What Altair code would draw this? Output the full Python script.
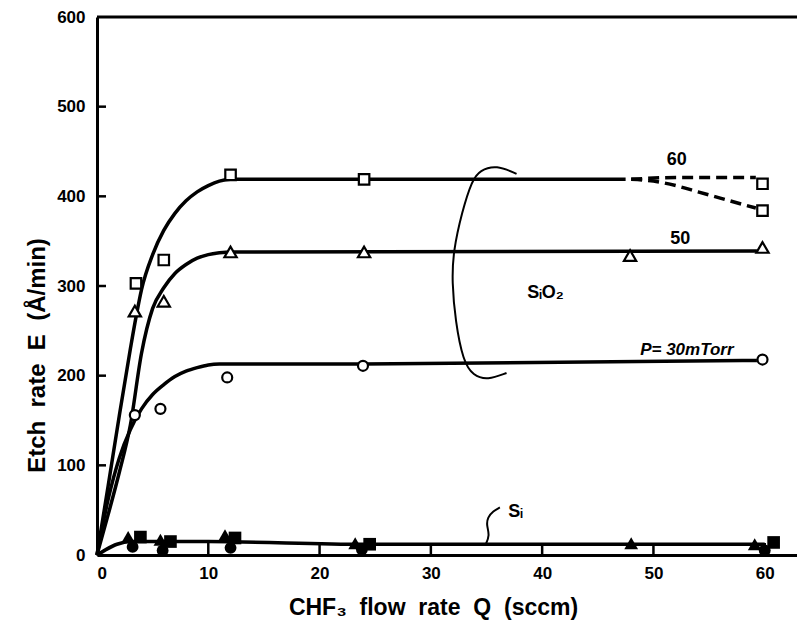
import altair as alt
import pandas as pd

FONT = "Liberation Sans Narrow, Arial Narrow, Liberation Sans, Arial, sans-serif"

# ---- axes ----
x_ticks = [0, 10, 20, 30, 40, 50, 60]
y_ticks = [0, 100, 200, 300, 400, 500, 600]
x_max = 62.9
y_max = 600

# ---- SiO2 measured points (open markers) ----
sq_x = [3.5, 6.0, 12.0, 24.0, 59.8, 59.8]
sq_y = [303, 329, 424, 419, 414, 384]
tri_x = [3.4, 6.0, 12.0, 24.0, 47.9, 59.8]
tri_y = [272, 283, 338, 338, 334, 343]
cir_x = [3.4, 5.7, 11.7, 23.9, 59.8]
cir_y = [156, 163, 198, 211, 218]

# ---- Si measured points (filled markers) ----
si_tri_x = [2.8, 5.7, 11.5, 23.2, 48.0, 59.1]
si_tri_y = [20, 17, 22, 13, 13, 12]
si_sq_x = [3.9, 6.6, 12.4, 24.5, 60.8]
si_sq_y = [20, 15, 19, 12, 14]
si_cir_x = [3.2, 5.9, 12.0, 23.8, 60.0]
si_cir_y = [9, 5, 8, 6, 5]

# ---- hand-drawn fitted curves ----
c60_x = [0, 1, 2, 3, 3.5, 4, 5, 6, 7, 8, 9, 10, 11, 12, 47.5]
c60_y = [0, 77, 155, 230, 265, 296, 335, 362, 381, 395, 405, 412, 417, 419, 419]
c50_x = [0, 1, 2, 3, 4, 5, 6, 7, 8, 9, 10, 11, 12, 59.3]
c50_y = [0, 45, 92, 145, 225, 275, 298, 314, 324, 331, 335, 337, 338, 339]
c30_x = [0, 1, 2, 3, 4, 5, 6, 7, 8, 9, 10, 11, 24, 59.3]
c30_y = [0, 62, 108, 140, 163, 179, 190, 199, 205, 209, 212, 213, 213, 217]
d60a_x = [48, 52, 56, 59.2]
d60a_y = [419, 421, 421, 421]
d60b_x = [48, 50, 52, 54, 56, 58, 59.2]
d60b_y = [419, 417, 412, 405, 398, 391, 387]
si_line_x = [0, 0.8, 1.8, 3, 10, 24, 60]
si_line_y = [0, 6, 12, 15, 15, 12, 12]

# ---- annotation strokes ----
bracket_x = [37.7, 35.9, 34.4, 33.7, 32.8, 32.0, 31.9, 32.2, 32.9, 33.8, 35.1, 36.8]
bracket_y = [425, 435, 429, 418, 383, 338, 305, 261, 216, 200, 195, 203]
leader_x = [34.9, 35.3, 35.0, 35.1, 35.6, 36.2]
leader_y = [11, 22, 33, 42, 49, 53]

# ---- labels ----
lab_text = ["60", "50", "SᵢO₂", "Sᵢ"]
lab_x = [52.1, 52.4, 40.3, 37.6]
lab_y = [440, 352, 292, 48]
p_text = ["P= 30mTorr"]
p_x = [53.0]
p_y = [229]

NB = "\u00a0"
x_title = f"CHF₃{NB} flow{NB} rate{NB} Q{NB} (sccm)"
y_title = f"Etch{NB} rate{NB} E{NB} (Å/min)"

W, H = 700, 538

xs = alt.Scale(domain=[0, x_max], nice=False, zero=False)
ys = alt.Scale(domain=[0, y_max], nice=False, zero=False)

X = alt.X(
    "x:Q", scale=xs,
    axis=alt.Axis(
        values=x_ticks, tickSize=0, grid=False, domainColor="black", domainWidth=3,
        labelFont=FONT, labelFontSize=17, labelFontWeight="bold", labelColor="black",
        labelPadding=10, format="d",
        title=x_title, titleFont=FONT, titleFontSize=23,
        titleFontWeight="bold", titleColor="black",
        titleX=336, titleY=52, titleAlign="center", titleBaseline="middle",
    ),
)
Y = alt.Y(
    "y:Q", scale=ys,
    axis=alt.Axis(
        values=y_ticks, tickSize=0, grid=False, domainColor="black", domainWidth=3,
        labelFont=FONT, labelFontSize=17, labelFontWeight="bold", labelColor="black",
        labelPadding=12, format="d",
        title=y_title, titleFont=FONT, titleFontSize=24,
        titleFontWeight="bold", titleColor="black", titleAngle=270,
        titleX=-60, titleY=338, titleAlign="center", titleBaseline="middle",
    ),
)


def series(xv, yv, name):
    return pd.DataFrame({"x": xv, "y": yv, "name": name, "o": list(range(len(xv)))})


solid = pd.concat([
    series(c60_x, c60_y, "c60"),
    series(c50_x, c50_y, "c50"),
    series(c30_x, c30_y, "c30"),
    series(si_line_x, si_line_y, "si"),
])
dashed = pd.concat([series(d60a_x, d60a_y, "a"), series(d60b_x, d60b_y, "b")])
bracket = series(bracket_x, bracket_y, "br")
leader = series(leader_x, leader_y, "ld")

curves = alt.Chart(solid).mark_line(color="black", strokeWidth=3.5, interpolate="monotone").encode(
    x=X, y=Y, detail="name:N", order="o:Q")
dash = alt.Chart(dashed).mark_line(color="black", strokeWidth=3.5, strokeDash=[11, 6],
                                   interpolate="monotone").encode(
    x=X, y=Y, detail="name:N", order="o:Q")
brk = alt.Chart(bracket).mark_line(color="black", strokeWidth=2, interpolate="basis").encode(
    x=X, y=Y, order="o:Q")
ldr = alt.Chart(leader).mark_line(color="black", strokeWidth=2, interpolate="basis").encode(
    x=X, y=Y, order="o:Q")


def pts(xv, yv, shape, filled, size):
    df = pd.DataFrame({"x": xv, "y": yv})
    if filled:
        m = alt.Chart(df).mark_point(shape=shape, filled=True, fill="black", color="black",
                                     size=size, opacity=1)
    else:
        m = alt.Chart(df).mark_point(shape=shape, filled=True, fill="white", stroke="black",
                                     strokeWidth=2.2, size=size, opacity=1, fillOpacity=1)
    return m.encode(x=X, y=Y)


markers = [
    pts(sq_x, sq_y, "square", False, 110),
    pts(tri_x, tri_y, "triangle-up", False, 150),
    pts(cir_x, cir_y, "circle", False, 100),
    pts(si_cir_x, si_cir_y, "circle", True, 140),
    pts(si_tri_x, si_tri_y, "triangle-up", True, 190),
    pts(si_sq_x, si_sq_y, "square", True, 160),
]

xt = alt.Chart(pd.DataFrame({"x": x_ticks[1:]})).mark_rule(color="black", strokeWidth=2.5).encode(
    x=X, y=alt.value(H), y2=alt.value(H - 12))
yt = alt.Chart(pd.DataFrame({"y": y_ticks[1:-1]})).mark_rule(color="black", strokeWidth=2.5).encode(
    y=Y, x=alt.value(0), x2=alt.value(9))
top = alt.Chart(pd.DataFrame({"y": [y_max]})).mark_rule(color="black", strokeWidth=3).encode(
    y=Y, x=alt.value(0), x2=alt.value(W))

labels = alt.Chart(pd.DataFrame({"x": lab_x, "y": lab_y, "t": lab_text})).mark_text(
    font=FONT, fontSize=18, fontWeight="bold", color="black", align="center", baseline="middle"
).encode(x=X, y=Y, text="t:N")
plabel = alt.Chart(pd.DataFrame({"x": p_x, "y": p_y, "t": p_text})).mark_text(
    font=FONT, fontSize=17, fontWeight="bold", fontStyle="italic", color="black",
    align="center", baseline="middle"
).encode(x=X, y=Y, text="t:N")

chart = alt.layer(
    curves, dash, brk, ldr, *markers, xt, yt, top, labels, plabel
).properties(
    width=W, height=H,
    padding={"left": 89, "top": 9, "right": 0, "bottom": 65},
    autosize=alt.AutoSizeParams(type="none"),
    background="white",
).configure_view(stroke=None)

chart.save("out.html", embed_options={"renderer": "svg", "actions": False})
